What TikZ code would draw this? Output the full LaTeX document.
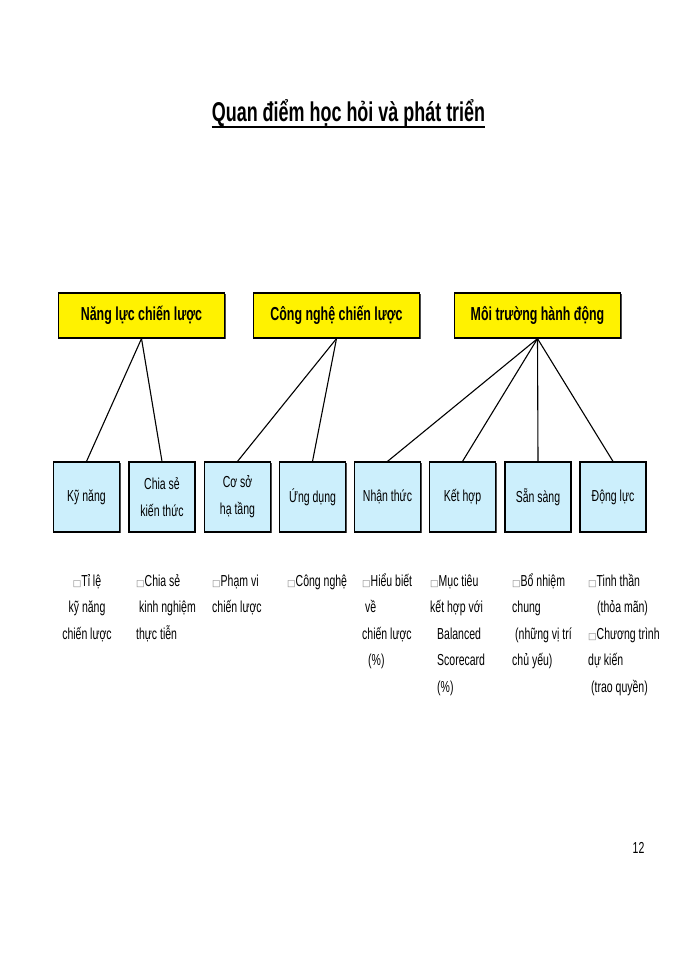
\documentclass[tikz,border=0pt]{standalone}
\usepackage{fontspec}
\setmainfont{Liberation Sans}[FakeStretch=0.66]
\newfontfamily\symfont{DejaVu Sans}
\usetikzlibrary{shadows}
\newcommand\bx{{\symfont\fontsize{9}{9}\selectfont\textcolor{gray}{□}}}
\tikzset{
  capbox/.style={draw, line width=1.2pt, fill=yellow, minimum width=166pt, minimum height=45pt,
    inner sep=0pt, font=\bfseries\fontsize{18.8}{20}\selectfont,
    drop shadow={shadow xshift=1pt, shadow yshift=-1pt, opacity=1, fill=black!70}},
  subbox/.style={draw, line width=1.2pt, fill=cyan!20, minimum width=66pt, minimum height=70pt,
    inner sep=0pt, align=center, font=\fontsize{15.9}{27}\selectfont,
    drop shadow={shadow xshift=1pt, shadow yshift=-1pt, opacity=1, fill=black!70}},
  note/.style={anchor=base west, align=left, inner sep=0pt, font=\fontsize{15.9}{26.5}\selectfont}
}
\begin{document}
\begin{tikzpicture}[x=1pt,y=-1pt]
  \useasboundingbox[fill=white] (0,0) rectangle (700,960);
  % title
  \node[anchor=base, inner sep=0pt, font=\bfseries\fontsize{27.2}{29}\selectfont] (title) at (348.5,122) {Quan điểm học hỏi và phát triển};
  \draw[line width=1.5pt] ([yshift=-5pt]title.base west) -- ([yshift=-5pt]title.base east);
  % top row
  \node[capbox] (nang) at (141.5,315.5) {Năng lực chiến lược};
  \node[capbox] (cong) at (336.5,315.5) {Công nghệ chiến lược};
  \node[capbox] (moi) at (537.5,315.5) {Môi trường hành động};
  % second row
  \node[subbox] (kyn) at (86.5,497) {Kỹ năng};
  \node[subbox] (chia) at (162,497) {Chia sẻ\\kiến thức};
  \node[subbox] (coso) at (237.5,497) {Cơ sở\\hạ tầng};
  \node[subbox] (ung) at (312.5,497) {Ứng dụng};
  \node[subbox] (nhan) at (387.5,497) {Nhận thức};
  \node[subbox] (ket) at (462.5,497) {Kết hợp};
  \node[subbox] (san) at (538,497) {Sẵn sàng};
  \node[subbox] (dong) at (613,497) {Động lực};
  % links
  \draw[line width=1.1pt] (nang.south) -- (kyn.north);
  \draw[line width=1.1pt] (nang.south) -- (chia.north);
  \draw[line width=1.1pt] (cong.south) -- (coso.north);
  \draw[line width=1.1pt] (cong.south) -- (ung.north);
  \draw[line width=1.1pt] (moi.south) -- (nhan.north);
  \draw[line width=1.1pt] (moi.south) -- (ket.north);
  \draw[line width=1.1pt] (moi.south) -- (san.north);
  \draw[line width=1.1pt] (moi.south) -- (dong.north);
  % measures (anchored at the last line)
  \node[note, anchor=base, align=center] (m1) at (87,639) {\bx Tỉ lệ\\kỹ năng\\chiến lược};
  \node[note] (m2) at (136,639) {\bx Chia sẻ\\\hspace*{3pt}kinh nghiệm\\thực tiễn};
  \node[note] (m3) at (212,612.5) {\bx Phạm vi\\chiến lược};
  \node[note] (m4) at (287,586) {\bx Công nghệ};
  \node[note] (m5) at (362,665.5) {\bx Hiểu biết\\\hspace*{3pt}về\\chiến lược\\\hspace*{6pt}(\%)};
  \node[note] (m6) at (430,692) {\bx Mục tiêu\\kết hợp với\\\hspace*{7pt}Balanced\\\hspace*{7pt}Scorecard\\\hspace*{7pt}(\%)};
  \node[note] (m7) at (512,665.5) {\bx Bổ nhiệm\\chung\\\hspace*{3pt}(những vị trí\\chủ yếu)};
  \node[note] (m8) at (588,692) {\bx Tinh thần\\\hspace*{9pt}(thỏa mãn)\\\bx Chương trình\\dự kiến\\\hspace*{3pt}(trao quyền)};
  % page number
  \node[anchor=base, inner sep=0pt, font=\fontsize{15.9}{17}\selectfont] (page) at (638.5,853) {12};
\end{tikzpicture}
\end{document}
